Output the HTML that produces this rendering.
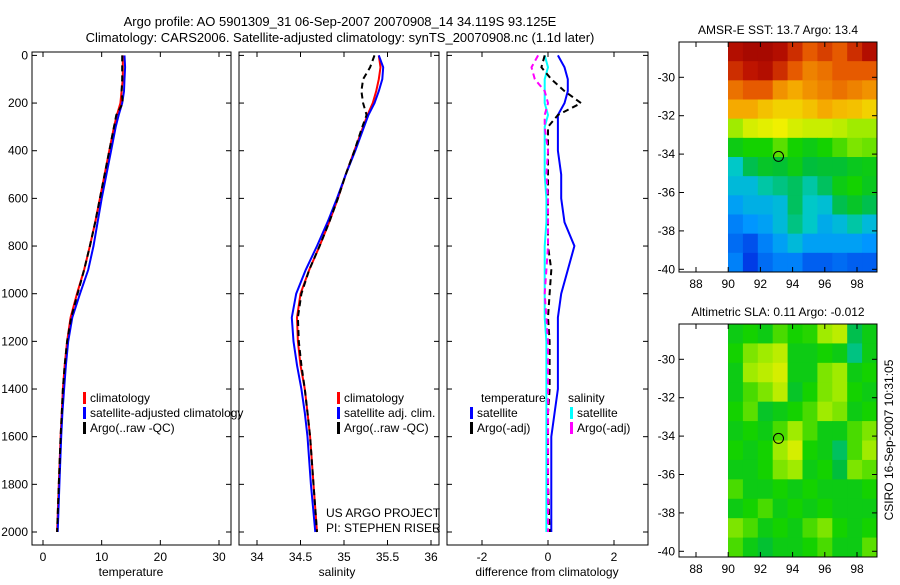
<!DOCTYPE html>
<html><head><meta charset="utf-8"><style>
body{margin:0;background:#fff;}
svg text{font-family:"Liberation Sans",sans-serif;font-size:12px;fill:#000;}
</style></head><body>
<svg id="c" width="900" height="580" xmlns="http://www.w3.org/2000/svg">
<text x="340" y="26" text-anchor="middle" style="font-size:13px">Argo profile: AO 5901309_31 06-Sep-2007 20070908_14 34.119S 93.125E</text>
<text x="340" y="42" text-anchor="middle" style="font-size:13px">Climatology: CARS2006. Satellite-adjusted climatology: synTS_20070908.nc (1.1d later)</text>
<g id="g"></g>
</svg>
<script>
// ---- data ----
const depths = [0,50,100,150,200,250,300,400,500,600,700,800,900,1000,1100,1200,1300,1400,1500,1600,1800,2000];
const tempClim = [13.6,13.6,13.6,13.4,13.2,12.6,12.1,11.3,10.5,9.7,8.9,8.0,7.0,5.8,4.7,4.1,3.7,3.4,3.2,3.0,2.7,2.4];
const tempSat  = [13.9,14.0,13.9,13.8,13.5,12.9,12.4,11.6,10.8,10.0,9.3,8.6,7.7,6.3,5.0,4.3,3.9,3.6,3.3,3.1,2.8,2.5];
const tempArgo = [13.5,13.5,13.5,13.4,13.6,12.5,12.1,11.3,10.5,9.7,8.9,8.0,7.0,5.9,4.8,4.1,3.7,3.4,3.2,3.0,2.7,2.4];
const salClim = [35.40,35.42,35.40,35.37,35.33,35.27,35.22,35.12,35.02,34.93,34.83,34.72,34.60,34.50,34.46,34.47,34.50,34.55,34.58,34.61,34.65,34.69];
const salSat  = [35.40,35.45,35.44,35.40,35.35,35.28,35.23,35.13,35.02,34.92,34.81,34.69,34.56,34.45,34.40,34.42,34.46,34.51,34.55,34.58,34.62,34.67];
const salArgo = [35.35,35.30,35.22,35.20,35.22,35.26,35.21,35.12,35.02,34.93,34.83,34.72,34.60,34.51,34.47,34.48,34.51,34.55,34.58,34.61,34.65,34.69];
const dTempSat  = [0.3,0.5,0.6,0.6,0.5,0.3,0.3,0.3,0.4,0.4,0.5,0.8,0.6,0.4,0.3,0.3,0.3,0.3,0.2,0.1,0.1,0.1];
const dSalSat   = [-0.1,0.0,-0.1,-0.1,-0.1,0.0,-0.1,-0.1,-0.1,-0.05,-0.05,-0.1,-0.1,-0.1,-0.1,-0.05,-0.05,-0.05,-0.05,-0.05,-0.05,-0.05];
const dTempArgo = [-0.1,-0.2,0.1,0.5,1.0,0.3,0.0,0.0,0.0,0.0,0.0,0.0,0.1,0.05,0.0,0.05,0.05,0.05,0.0,0.0,0.0,0.05];
const dSalArgo  = [-0.3,-0.5,-0.4,-0.1,0.0,-0.1,-0.1,0.0,-0.05,0.0,0.0,0.0,-0.05,-0.1,-0.05,0.0,0.0,0.0,0.0,0.0,0.0,0.0];
const depthTicks = [0,200,400,600,800,1000,1200,1400,1600,1800,2000];
const tempTicks = [0,10,20,30];
const salTicks = [34,34.5,35,35.5,36];
const diffTicks = [-2,0,2];
const latTicks = [-30,-32,-34,-36,-38,-40];
const lonTicks = [88,90,92,94,96,98];
const sstGrid = [
[.95,.97,.97,.95,.9,.85,.88,.85,.9,.95],
[.9,.93,.95,.9,.85,.8,.82,.85,.85,.85],
[.82,.85,.85,.78,.75,.78,.8,.82,.8,.78],
[.75,.75,.72,.7,.7,.72,.75,.73,.72,.7],
[.6,.64,.65,.66,.64,.63,.63,.62,.6,.6],
[.5,.52,.52,.56,.52,.5,.52,.55,.58,.57],
[.38,.45,.48,.47,.5,.46,.47,.47,.49,.5],
[.35,.35,.4,.42,.44,.4,.44,.5,.52,.49],
[.3,.33,.33,.35,.44,.38,.36,.45,.48,.45],
[.25,.28,.3,.35,.42,.38,.32,.35,.4,.35],
[.22,.18,.25,.3,.35,.3,.3,.3,.3,.28],
[.25,.15,.22,.25,.25,.2,.2,.22,.2,.2]];
const slaGrid = [
[.5,.52,.5,.55,.52,.53,.6,.62,.45,.5],
[.52,.58,.6,.62,.5,.5,.52,.5,.42,.5],
[.5,.6,.62,.64,.5,.5,.58,.6,.5,.52],
[.5,.55,.58,.62,.48,.52,.58,.6,.52,.5],
[.52,.56,.48,.5,.52,.55,.6,.58,.5,.52],
[.5,.52,.5,.55,.6,.55,.5,.5,.55,.58],
[.52,.5,.52,.6,.64,.52,.5,.44,.55,.6],
[.5,.5,.52,.58,.6,.5,.52,.46,.58,.56],
[.55,.5,.5,.52,.5,.52,.5,.5,.5,.52],
[.5,.52,.55,.5,.52,.5,.52,.5,.5,.5],
[.58,.55,.5,.52,.5,.55,.58,.52,.5,.52],
[.55,.5,.47,.5,.5,.52,.55,.5,.5,.56]];

const NS='http://www.w3.org/2000/svg', G=document.getElementById('g');
function mk(t,a,p){const e=document.createElementNS(NS,t);for(const k in a)e.setAttribute(k,a[k]);(p||G).appendChild(e);return e;}
function lin(d0,d1,r0,r1){return v=>r0+(v-d0)*(r1-r0)/(d1-d0);}
const yD = lin(0,2000,55.4,532);

function frame(x0,y0,x1,y1,name){
  const r=mk('rect',{x:x0,y:y0,width:x1-x0,height:y1-y0,fill:'none',stroke:'#000','stroke-width':1});
  
  
}
function xTicks(ticks,sx,y0,y1,lab){
  ticks.forEach(t=>{const x=sx(t);
    mk('line',{x1:x,x2:x,y1:y1,y2:y1-5,stroke:'#000'});
    mk('line',{x1:x,x2:x,y1:y0,y2:y0+5,stroke:'#000'});
    const tx=mk('text',{x:x,y:y1+16,'text-anchor':'middle'});tx.textContent=t;
    
    
  });
}
function yTicksD(x0,x1,label){
  depthTicks.forEach(t=>{const y=yD(t);
    mk('line',{x1:x0,x2:x0+5,y1:y,y2:y,stroke:'#000'});
    mk('line',{x1:x1,x2:x1-5,y1:y,y2:y,stroke:'#000'});
    if(label){const tx=mk('text',{x:x0-4,y:y+4,'text-anchor':'end'});tx.textContent=t;
      
      }
  });
}
function line(vals,sx,color,dash,name,w){
  const d=vals.map((v,i)=>(i?'L':'M')+sx(v).toFixed(1)+','+yD(depths[i]).toFixed(1)).join('');
  const p=mk('path',{d:d,fill:'none',stroke:color,'stroke-width':w||2,'stroke-dasharray':dash||'none'});
  
  
}
function txt(x,y,s,name,anchor){const t=mk('text',{x:x,y:y,'text-anchor':anchor||'start'});t.textContent=s;
  
  return t;}
function legend(x,y,items){
  items.forEach((it,i)=>{
    const m=mk('rect',{x:x,y:y+i*15-10,width:3,height:12,fill:it[1]});
    
    
    txt(x+7,y+i*15,it[0],'legend-entry');
  });
}

// Panel 1 temperature
const sxT=lin(0,30,43,219);
frame(32,52,231,545,'temperature-panel');
yTicksD(32,231,true); xTicks(tempTicks,sxT,52,545);
line(tempClim,sxT,'#f00',null,'temp-climatology-line');
line(tempSat,sxT,'#00f',null,'temp-satellite-line');
line(tempArgo,sxT,'#000','6,4','temp-argo-line');
txt(131,576,'temperature','x-axis-title','middle');
legend(83,402,[['climatology','#f00'],['satellite-adjusted climatology','#00f'],['Argo(..raw -QC)','#000']]);

// Panel 2 salinity
const sxS=lin(34,36,257,431);
frame(239,52,439,545,'salinity-panel');
yTicksD(239,439,false); xTicks(salTicks,sxS,52,545);
line(salClim,sxS,'#f00',null,'sal-climatology-line');
line(salSat,sxS,'#00f',null,'sal-satellite-line');
line(salArgo,sxS,'#000','6,4','sal-argo-line');
txt(337,576,'salinity','x-axis-title','middle');
legend(337,402,[['climatology','#f00'],['satellite adj. clim.','#00f'],['Argo(..raw -QC)','#000']]);
txt(326,517,'US ARGO PROJECT','project-credit');
txt(326,532,'PI: STEPHEN RISER','pi-credit');

// Panel 3 differences
const sxDf=lin(-2,2,482,614);
frame(447,52,648,545,'difference-panel');
yTicksD(447,648,false); xTicks(diffTicks,sxDf,52,545);
line(dTempSat,sxDf,'#00f',null,'diff-temp-satellite-line');
line(dSalSat,sxDf,'#0ff',null,'diff-sal-satellite-line');
line(dTempArgo,sxDf,'#000','6,4','diff-temp-argo-line');
line(dSalArgo,sxDf,'#f0f','6,4','diff-sal-argo-line');
txt(547,576,'difference from climatology','x-axis-title','middle');
txt(481,402,'temperature','legend-title');
txt(568,402,'salinity','legend-title');
legend(470,417,[['satellite','#00f'],['Argo(-adj)','#000']]);
legend(570,417,[['satellite','#0ff'],['Argo(-adj)','#f0f']]);

// Maps
const stops=[[0,[0,0,140]],[0.15,[0,60,230]],[0.28,[0,150,255]],[0.38,[0,200,200]],[0.46,[0,190,60]],[0.52,[20,210,0]],[0.6,[160,235,0]],[0.66,[240,240,0]],[0.75,[245,170,0]],[0.85,[230,90,0]],[0.93,[190,20,0]],[1,[150,0,0]]];
function jet(v){
  for(let i=1;i<stops.length;i++){if(v<=stops[i][0]){const a=stops[i-1],b=stops[i],f=(v-a[0])/(b[0]-a[0]);
    return 'rgb('+a[1].map((c,k)=>Math.round(c+(b[1][k]-c)*f)).join(',')+')';}}
  return 'rgb(150,0,0)';
}
function map(y0,y1,latTop,grid,title,name){
  const sx=lin(88,98,696,857), sy=lin(-30,-40,y0+35.3,y0+227.3);
  txt(778,y0-8,title,name+'-title','middle');
  const rows=grid.length, cols=grid[0].length;
  const cw=(877-728)/cols, ch=(y1-y0)/rows;
  grid.forEach((row,i)=>row.forEach((v,j)=>{
    const c=mk('rect',{x:728+j*cw,y:y0+i*ch,width:cw+0.5,height:ch+0.5,fill:jet(v)});
    
    
  }));
  frame(679,y0,877,y1,name+'-frame');
  latTicks.forEach(t=>{const y=sy(t);
    mk('line',{x1:679,x2:684,y1:y,y2:y,stroke:'#000'});mk('line',{x1:877,x2:872,y1:y,y2:y,stroke:'#000'});
    txt(675,y+4,t,'lat-tick-label','end');});
  lonTicks.forEach(t=>{const x=sx(t);
    mk('line',{x1:x,x2:x,y1:y1,y2:y1-5,stroke:'#000'});mk('line',{x1:x,x2:x,y1:y0,y2:y0+5,stroke:'#000'});
    txt(x,y1+16,t,'lon-tick-label','middle');});
  const m=mk('circle',{cx:sx(93.125),cy:sy(-34.119),r:5,fill:'none',stroke:'#000'});
  
  
}
map(42,272,-28.2,sstGrid,'AMSR-E SST: 13.7 Argo: 13.4','sst-map');
map(324,557,-28.2,slaGrid,'Altimetric SLA: 0.11 Argo: -0.012','sla-map');
const cs=txt(893,440,'CSIRO 16-Sep-2007 10:31:05','csiro-timestamp','middle');
cs.setAttribute('transform','rotate(-90 893 440)');
</script>
</body></html>
